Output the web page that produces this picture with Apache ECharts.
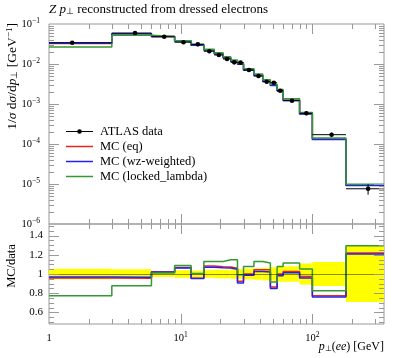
<!DOCTYPE html>
<html><head><meta charset="utf-8">
<script src="https://cdn.jsdelivr.net/npm/echarts@6/dist/echarts.min.js"></script>
<style>html,body{margin:0;padding:0;background:#fff}#c{width:397px;height:358px}</style>
</head><body><div id="c"></div>
<script>
// ---------- data ----------
const binEdges   = [0,3,6,9,12,15,18,21,24,27,30,36,42,48,54,60,80,100,180,350];
const binCenters = [1.5,4.5,7.5,10.5,13.5,16.5,19.5,22.5,25.5,28.5,33,39,45,51,57,70,90,140,265];
const atlasData  = [0.0341,0.0595,0.048,0.035,0.031,0.0208,0.0168,0.0133,0.011,0.0108,0.0071,0.0050,0.0036,0.0034,0.00215,0.00121,0.000585,0.000171,0.0000076];
const atlasRelErr= [0.055,0.05,0.03,0.04,0.035,0.04,0.045,0.045,0.05,0.05,0.055,0.06,0.065,0.07,0.08,0.08,0.11,0.125,0.29];
const mcEq       = [0.03267,0.05682,0.04896,0.03738,0.02961,0.02253,0.01808,0.01427,0.01166,0.00998,0.0071,0.005225,0.003762,0.002941,0.00215,0.001243,0.0005704,0.0001325,0.000009257];
const mcWz       = [0.03301,0.05742,0.04896,0.03717,0.02951,0.02224,0.01789,0.01412,0.01155,0.009796,0.007001,0.005135,0.003672,0.002883,0.002113,0.001226,0.0005604,0.0001303,0.000009173];
const mcLocked   = [0.02643,0.0523,0.04848,0.03812,0.03119,0.0235,0.01898,0.01527,0.01263,0.01072,0.007661,0.00565,0.00401,0.003118,0.00232,0.001348,0.0006154,0.0001414,0.000009827];
const seriesNames = ['ATLAS data','MC (eq)','MC (wz-weighted)','MC (locked_lambda)'];
const xMajorTicks = [1,10,100];
const yMajorTicks = [1e-6,1e-5,1e-4,1e-3,1e-2,1e-1];
const ratioTickLabels = [0.6,0.8,1,1.2,1.4];

// ---------- layout / style ----------
const X_MIN = 1, X_MAX = 350, Y_MIN = 1e-6, Y_MAX = 0.1, R_MIN = 0.48, R_MAX = 1.52;
const FONT = 'Liberation Serif';
const FRAME = '#999';
const COLORS = ['#000000','#ee2222','#2222ee','#339933'];

const chart = echarts.init(document.getElementById('c'), null, {renderer:'canvas', width:397, height:358});

function stepData(vals){
  const pts = vals.map((v,i)=>[Math.max(binEdges[i],X_MIN), v]);
  pts.push([binEdges[binEdges.length-1], vals[vals.length-1]]);
  return pts;
}
function ratioStep(vals){ return stepData(vals.map((v,i)=>v/atlasData[i])); }

// tick positions
const xTicks = [];
xMajorTicks.forEach(d=>{ for(let k=1;k<=9;k++){ const v=k*d; if(v>X_MIN && v<X_MAX) xTicks.push([v,k===1?1:0]); }});
const yTicks = [];
yMajorTicks.forEach(d=>{ for(let k=1;k<=9;k++){ const v=k*d; if(v>Y_MIN*1.0001 && v<Y_MAX*0.9999) yTicks.push([v,k===1?1:0]); }});
const rTicks = [];
for(let i=10;i<=30;i++){ const v=i*0.05; const major = ratioTickLabels.some(t=>Math.abs(t-v)<1e-6); rTicks.push([v, major?1:0]); }

function crisp(v){ return Math.round(v)+0.5; }
function tickRender(params, api){
  const cs = params.coordSys;
  const major = api.value(2), isX = api.value(3);
  const len = major ? 10 : 5;
  const p = api.coord([api.value(0), api.value(1)]);
  const st = {stroke: FRAME, lineWidth: 1};
  if (isX){
    const x = crisp(p[0]);
    return {type:'group', children:[
      {type:'line', shape:{x1:x,y1:cs.y,x2:x,y2:cs.y+len}, style:st},
      {type:'line', shape:{x1:x,y1:cs.y+cs.height,x2:x,y2:cs.y+cs.height-len}, style:st}
    ]};
  } else {
    const y = crisp(p[1]);
    return {type:'group', children:[
      {type:'line', shape:{x1:cs.x,y1:y,x2:cs.x+len,y2:y}, style:st},
      {type:'line', shape:{x1:cs.x+cs.width,y1:y,x2:cs.x+cs.width-len,y2:y}, style:st}
    ]};
  }
}
function tickSeries(gi, xT, yT, refX, refY){
  const data = xT.map(t=>[t[0], refY, t[1], 1]).concat(yT.map(t=>[refX, t[0], t[1], 0]));
  return {type:'custom', xAxisIndex:gi, yAxisIndex:gi, data, clip:false, silent:true, z:10,
          encode:{x:0,y:1}, renderItem:tickRender};
}

const supRich = {
  b:{fontFamily:FONT, fontSize:10.5, color:'#000', lineHeight:14},
  s:{fontFamily:FONT, fontSize:7.5, color:'#000', verticalAlign:'top', lineHeight:14, padding:[0,0,4,0]}
};

const errData = atlasData.map((v,i)=>[binCenters[i], v, Math.max(binEdges[i],X_MIN), binEdges[i+1], v*atlasRelErr[i]]);
const bandData = atlasRelErr.map((e,i)=>[Math.max(binEdges[i],X_MIN), binEdges[i+1], 1-e, 1+e]);

const italicRich = function(fs){
  return {
    i:{fontFamily:FONT, fontStyle:'italic', fontSize:fs, color:'#000'},
    sub:{fontFamily:FONT, fontSize:fs*0.68, color:'#000', verticalAlign:'bottom', padding:[4,0,0,0]},
    sup:{fontFamily:FONT, fontSize:fs*0.68, color:'#000', verticalAlign:'top', padding:[0,0,4,0]}
  };
};

const option = {
  animation:false,
  backgroundColor:'#fff',
  grid:[
    {left:49, top:24, width:335, height:200, show:true, borderColor:FRAME, borderWidth:1},
    {left:49, top:224, width:335, height:100, show:true, borderColor:FRAME, borderWidth:1}
  ],
  xAxis:[
    {type:'log', gridIndex:0, min:X_MIN, max:X_MAX, axisLine:{show:false}, axisTick:{show:false}, axisLabel:{show:false}, splitLine:{show:false}},
    {type:'log', gridIndex:1, min:X_MIN, max:X_MAX, axisLine:{show:false}, axisTick:{show:false}, splitLine:{show:false},
     axisLabel:{margin:7, showMinLabel:true, showMaxLabel:false, rich:supRich, fontFamily:FONT, fontSize:10.5, color:'#000',
       formatter:function(v){
         const e = Math.log10(v);
         if (Math.abs(e-Math.round(e))>1e-6) return '';
         const n = Math.round(e);
         if (!xMajorTicks.some(t=>Math.abs(t-v)<1e-6)) return '';
         return n===0 ? '{b|1}' : '{b|10}{s|'+n+'}';
       }}}
  ],
  yAxis:[
    {type:'log', gridIndex:0, min:Y_MIN, max:Y_MAX, axisLine:{show:false}, axisTick:{show:false}, splitLine:{show:false},
     axisLabel:{margin:9, showMinLabel:true, showMaxLabel:true, rich:supRich, color:'#000',
       formatter:function(v){
         const e = Math.log10(v);
         if (Math.abs(e-Math.round(e))>1e-6) return '';
         return '{b|10}{s|\u2212'+(-Math.round(e))+'}';
       }}},
    {type:'value', gridIndex:1, min:R_MIN, max:R_MAX, splitNumber:5, axisLine:{show:false}, axisTick:{show:false}, splitLine:{show:false},
     axisLabel:{margin:6, showMinLabel:false, showMaxLabel:false, fontFamily:FONT, fontSize:11, color:'#000',
       formatter:function(v){
         return ratioTickLabels.some(t=>Math.abs(t-v)<1e-6) ? String(+v.toFixed(1)) : '';
       }}}
  ],
  series:[
    // ratio band
    {type:'custom', name:'band', xAxisIndex:1, yAxisIndex:1, data:bandData, encode:{x:[0,1], y:[2,3]}, z:1, silent:true,
     renderItem:function(params, api){
       const a = api.coord([api.value(0), api.value(3)]);
       const b = api.coord([api.value(1), api.value(2)]);
       return {type:'rect', shape:{x:a[0], y:a[1], width:b[0]-a[0], height:b[1]-a[1]}, style:{fill:'#ffff00'}};
     },
     markLine:{silent:true, symbol:'none', label:{show:false}, lineStyle:{color:'rgba(0,0,0,0.45)', width:1, type:'solid'}, data:[{yAxis:1}]}
    },
    // top MC
    {type:'line', name:seriesNames[1], xAxisIndex:0, yAxisIndex:0, step:'end', symbol:'none', data:stepData(mcEq), lineStyle:{color:COLORS[1], width:1.5}, z:3},
    {type:'line', name:seriesNames[2], xAxisIndex:0, yAxisIndex:0, step:'end', symbol:'none', data:stepData(mcWz), lineStyle:{color:COLORS[2], width:1.5}, z:3},
    {type:'line', name:seriesNames[3], xAxisIndex:0, yAxisIndex:0, step:'end', symbol:'none', data:stepData(mcLocked), lineStyle:{color:COLORS[3], width:1.5}, z:3},
    // ratio MC
    {type:'line', xAxisIndex:1, yAxisIndex:1, step:'end', symbol:'none', data:ratioStep(mcEq), lineStyle:{color:COLORS[1], width:1.5}, z:3},
    {type:'line', xAxisIndex:1, yAxisIndex:1, step:'end', symbol:'none', data:ratioStep(mcWz), lineStyle:{color:COLORS[2], width:1.5}, z:3},
    {type:'line', xAxisIndex:1, yAxisIndex:1, step:'end', symbol:'none', data:ratioStep(mcLocked), lineStyle:{color:COLORS[3], width:1.5}, z:3},
    // data
    {type:'custom', name:seriesNames[0], xAxisIndex:0, yAxisIndex:0, data:errData, encode:{x:[0,2,3], y:1}, z:5, silent:true,
     renderItem:function(params, api){
       const c = api.coord([api.value(0), api.value(1)]);
       const l = api.coord([api.value(2), api.value(1)]);
       const h = api.coord([api.value(3), api.value(1)]);
       const t = api.coord([api.value(0), api.value(1)+api.value(4)]);
       const b = api.coord([api.value(0), api.value(1)-api.value(4)]);
       const st = {stroke:'#000', lineWidth:1};
       return {type:'group', children:[
         {type:'line', shape:{x1:l[0],y1:c[1],x2:h[0],y2:c[1]}, style:st},
         {type:'line', shape:{x1:c[0],y1:t[1],x2:c[0],y2:b[1]}, style:st},
         {type:'circle', shape:{cx:c[0],cy:c[1],r:2.3}, style:{fill:'#000'}}
       ]};
     }},
    tickSeries(0, xTicks, yTicks, 2, 1e-3),
    tickSeries(1, xTicks, rTicks, 2, 1)
  ],
  graphic:[
    {type:'text', x:49, y:10, style:{text:'{i|Z} {i|p}{sub|\u22a5} reconstructed from dressed electrons', verticalAlign:'middle', align:'left',
      rich:italicRich(13), fontFamily:FONT, fontSize:13, fill:'#000'}},
    {type:'text', x:12, y:23, rotation:Math.PI/2, style:{text:'1/{i|\u03c3} d{i|\u03c3}/d{i|p}{sub|\u22a5} [GeV{sup|\u22121}]', align:'right', verticalAlign:'middle',
      rich:italicRich(13.5), fontFamily:FONT, fontSize:13.5, fill:'#000'}},
    {type:'text', x:12, y:266, rotation:Math.PI/2, style:{text:'MC/data', align:'center', verticalAlign:'middle', fontFamily:FONT, fontSize:12.5, fill:'#000'}},
    {type:'text', x:384, y:347, style:{text:'{i|p}{sub|\u22a5}({i|ee}) [GeV]', align:'right', verticalAlign:'middle',
      rich:italicRich(12), fontFamily:FONT, fontSize:12, fill:'#000'}}
  ]
};

// legend (drawn as graphic entries)
const legendY = [131,146,161,176];
seriesNames.forEach((name,i)=>{
  option.graphic.push({type:'line', shape:{x1:66,y1:legendY[i]+0.5,x2:93,y2:legendY[i]+0.5}, style:{stroke:COLORS[i], lineWidth:i===0?1:1.5}});
  if (i===0) option.graphic.push({type:'circle', shape:{cx:79.5, cy:legendY[i]+0.5, r:2.3}, style:{fill:'#000'}});
  option.graphic.push({type:'text', x:100, y:legendY[i]+0.5, style:{text:name, align:'left', verticalAlign:'middle', fontFamily:FONT, fontSize:12.5, fill:'#000'}});
});

chart.setOption(option);
</script>
</body></html>
